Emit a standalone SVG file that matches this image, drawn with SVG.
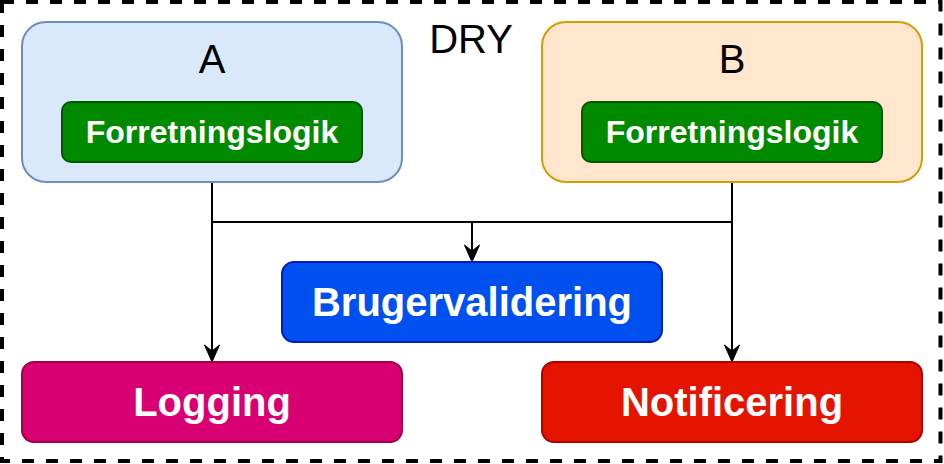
<svg xmlns="http://www.w3.org/2000/svg" width="944" height="464" viewBox="0 0 944 464">
<style>
text{font-family:"Liberation Sans",Arial,sans-serif;text-anchor:middle}
.t{font-size:40px;fill:#000}
.b{font-weight:bold;fill:#fff}
.inner{fill:#008a00;stroke:#005700;stroke-width:2}
.edge{fill:none;stroke:#000;stroke-width:2}
.arrow{marker-end:url(#arr)}
</style>
<defs>
<marker id="arr" markerUnits="userSpaceOnUse" markerWidth="20" markerHeight="18" viewBox="-18 -9 20 18" refX="-11" refY="0" orient="auto" overflow="visible">
<path d="M0,0 L-17,-7.5 L-11,0 L-17,7.5 Z" fill="#000" stroke="#000" stroke-width="1"/>
</marker>
</defs>
<rect id="container" x="2" y="2" width="938.5" height="459" fill="#fff" stroke="#000" stroke-width="4" stroke-dasharray="12 12"/>
<text class="t" x="471" y="53">DRY</text>
<g id="connectors">
<path class="edge arrow" d="M212,182 V222 H472 V251"/>
<path class="edge" d="M732,182 V222 H472"/>
<path class="edge arrow" d="M212,182 V351"/>
<path class="edge arrow" d="M732,182 V351"/>
</g>
<g id="nodeA">
<rect x="22" y="22" width="380" height="160" rx="24" fill="#dae8fc" stroke="#6c8ebf" stroke-width="2"/>
<text class="t" x="212" y="73">A</text>
</g>
<g id="logicA">
<rect class="inner" x="62" y="102" width="300" height="60" rx="9"/>
<text class="b" x="212" y="143" font-size="32">Forretningslogik</text>
</g>
<g id="nodeB">
<rect x="542" y="22" width="380" height="160" rx="24" fill="#ffe6cc" stroke="#d79b00" stroke-width="2"/>
<text class="t" x="732" y="73">B</text>
</g>
<g id="logicB">
<rect class="inner" x="582" y="102" width="300" height="60" rx="9"/>
<text class="b" x="732" y="143" font-size="32">Forretningslogik</text>
</g>
<g id="brugervalidering">
<rect x="282" y="262" width="380" height="80" rx="12" fill="#0050ef" stroke="#001dbc" stroke-width="2"/>
<text class="b" x="472" y="316" font-size="40">Brugervalidering</text>
</g>
<g id="logging">
<rect x="22" y="362" width="380" height="80" rx="12" fill="#d80073" stroke="#a50040" stroke-width="2"/>
<text class="b" x="212" y="416" font-size="40">Logging</text>
</g>
<g id="notificering">
<rect x="542" y="362" width="380" height="80" rx="12" fill="#e51400" stroke="#b20000" stroke-width="2"/>
<text class="b" x="732" y="416" font-size="40">Notificering</text>
</g>
</svg>
